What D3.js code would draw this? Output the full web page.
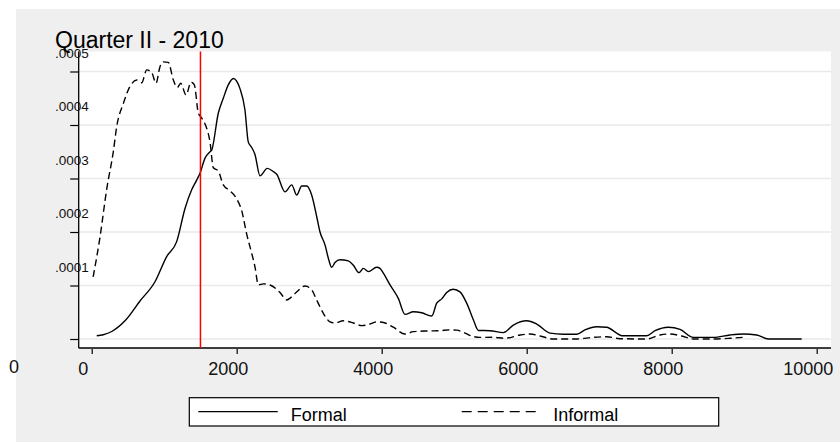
<!DOCTYPE html>
<html>
<head>
<meta charset="utf-8">
<script src="https://cdn.jsdelivr.net/npm/d3@7"></script>
<style>
  body { margin: 0; background: #fff; }
  svg { display: block; font-family: "Liberation Sans", Arial, Helvetica, sans-serif; }
</style>
</head>
<body>
<svg id="chart" width="840" height="443"></svg>
<script>
// density values are in units of 1e-4
let formalX = [70, 160, 276, 459, 666, 873, 1034, 1172, 1287, 1379, 1448, 1494, 1563, 1632, 1655, 1746, 1815, 1884, 1953, 2045, 2114, 2160, 2207, 2252, 2321, 2422, 2505, 2552, 2667, 2759, 2828, 2897, 2966, 3034, 3103, 3149, 3218, 3264, 3310, 3356, 3425, 3540, 3609, 3687, 3747, 3816, 3931, 3976, 4023, 4115, 4229, 4322, 4437, 4552, 4690, 4759, 4828, 4897, 4988, 5080, 5172, 5264, 5333, 5494, 5678, 5816, 6000, 6138, 6322, 6505, 6690, 6804, 6966, 7103, 7241, 7310, 7655, 7770, 7954, 8115, 8298, 8574, 8804, 8988, 9172, 9333, 9793]
let formalY = [0.06, 0.08, 0.14, 0.34, 0.71, 1.07, 1.54, 1.82, 2.44, 2.79, 2.97, 3.10, 3.38, 3.50, 3.53, 4.22, 4.50, 4.75, 4.87, 4.68, 4.28, 3.68, 3.58, 3.45, 3.05, 3.19, 3.13, 3.08, 2.75, 2.88, 2.69, 2.86, 2.86, 2.69, 2.29, 2.00, 1.76, 1.51, 1.34, 1.43, 1.48, 1.46, 1.38, 1.24, 1.32, 1.26, 1.34, 1.32, 1.23, 1.01, 0.76, 0.46, 0.51, 0.49, 0.43, 0.67, 0.75, 0.87, 0.93, 0.88, 0.67, 0.36, 0.16, 0.155, 0.12, 0.26, 0.34, 0.28, 0.11, 0.09, 0.09, 0.17, 0.23, 0.22, 0.11, 0.06, 0.06, 0.155, 0.22, 0.18, 0.03, 0.03, 0.075, 0.093, 0.075, 0.0, 0.0]

let informalX = [20, 114, 207, 298, 345, 436, 528, 621, 690, 759, 828, 887, 942, 988, 1057, 1126, 1181, 1228, 1301, 1370, 1416, 1471, 1517, 1563, 1632, 1678, 1746, 1815, 1908, 2000, 2069, 2138, 2207, 2252, 2298, 2367, 2459, 2597, 2690, 2804, 2942, 3034, 3103, 3195, 3287, 3356, 3471, 3609, 3724, 3816, 3931, 4046, 4160, 4322, 4437, 4621, 4804, 4942, 5034, 5149, 5264, 5356, 5540, 5701, 5908, 6046, 6184, 6367, 6690, 6920, 7103, 7287, 7655, 7839, 7977, 8138, 8298, 8574, 8804, 8988]
let informalY = [1.16, 1.90, 2.80, 3.50, 3.97, 4.40, 4.72, 4.84, 4.79, 5.03, 4.98, 4.78, 5.09, 5.18, 5.17, 4.84, 4.70, 4.78, 4.56, 4.80, 4.75, 4.22, 4.13, 4.02, 3.68, 3.20, 3.14, 2.88, 2.77, 2.62, 2.40, 1.96, 1.60, 1.35, 1.01, 1.03, 1.01, 0.87, 0.73, 0.85, 0.99, 0.92, 0.73, 0.48, 0.32, 0.30, 0.34, 0.30, 0.25, 0.27, 0.32, 0.30, 0.22, 0.093, 0.137, 0.15, 0.155, 0.17, 0.165, 0.11, 0.045, 0.03, 0.032, 0.013, 0.075, 0.093, 0.056, 0.0, 0.0, 0.032, 0.043, 0.006, 0.0, 0.075, 0.093, 0.056, 0.0, 0.0, 0.013, 0.032]

let xTicks = [0, 2000, 4000, 6000, 8000, 10000]
let yTicks = [0, 0.0001, 0.0002, 0.0003, 0.0004, 0.0005]
let yTickLabels = ["", ".0001", ".0002", ".0003", ".0004", ".0005"]
let cutoff = 1500
let title = "Quarter II - 2010"
let legendNames = ["Formal", "Informal"]

let svg = d3.select("#chart")

// plot frame
let plotLeft = 78.7, plotRight = 831, plotTop = 51.5, plotBottom = 348

let x = d3.scaleLinear().domain([0, 10000]).range([91.7, 816.7])
let y = d3.scaleLinear().domain([0, 0.0005]).range([339, 71.5])

svg.append("rect").attr("x", 16).attr("y", 9).attr("width", 824).attr("height", 433).attr("fill", "#efefef")
svg.append("rect").attr("x", plotLeft).attr("y", plotTop)
  .attr("width", plotRight - plotLeft).attr("height", plotBottom - plotTop).attr("fill", "#fff")

// gridlines
svg.append("g").selectAll("line").data(yTicks).enter().append("line")
  .attr("x1", plotLeft).attr("x2", plotRight)
  .attr("y1", d => y(d)).attr("y2", d => y(d))
  .attr("stroke", "#e9e9e9").attr("stroke-width", 1.5)

// y axis (labels sit above their ticks, like the original)
let yAxis = svg.append("g").attr("transform", `translate(${plotLeft},0)`)
  .call(d3.axisLeft(y).tickValues(yTicks).tickSize(8.5).tickFormat((d, i) => yTickLabels[i]))
yAxis.select(".domain").attr("d", `M0,${plotTop}V${plotBottom}`).attr("stroke-width", 1.3)
yAxis.selectAll(".tick line").attr("stroke-width", 1.2)
yAxis.selectAll(".tick text")
  .attr("x", 55 - plotLeft).attr("dy", -14.5).attr("text-anchor", "start")
  .attr("font-size", 13.5).attr("font-family", "Liberation Sans, Arial, sans-serif").attr("fill", "#111")

// x axis
let xAxis = svg.append("g").attr("transform", `translate(0,${plotBottom})`)
  .call(d3.axisBottom(x).tickValues(xTicks).tickSize(6).tickFormat(d3.format("d")))
xAxis.select(".domain").attr("d", `M${plotLeft},0H${plotRight}`).attr("stroke-width", 1.3)
xAxis.selectAll(".tick line").attr("stroke-width", 1.2).attr("y1", 1)
xAxis.selectAll(".tick text")
  .attr("dx", -9).attr("y", 27).attr("dy", 0)
  .attr("font-size", 18).attr("font-family", "Liberation Sans, Arial, sans-serif").attr("fill", "#111")

// stray zero label at the far left
svg.append("text").attr("x", 14).attr("y", 373).attr("text-anchor", "middle")
  .attr("font-size", 18).attr("fill", "#111").text("0")

// curves
let line = d3.line()
  .x(d => x(d[0]))
  .y(d => y(d[1] / 10000))
  .curve(d3.curveMonotoneX)

svg.append("path").datum(d3.zip(formalX, formalY))
  .attr("d", line).attr("fill", "none").attr("stroke", "#000").attr("stroke-width", 1.4)

svg.append("path").datum(d3.zip(informalX, informalY))
  .attr("d", line).attr("fill", "none").attr("stroke", "#000").attr("stroke-width", 1.4)
  .attr("stroke-dasharray", "7,4")

// red reference line
svg.append("line")
  .attr("x1", x(cutoff)).attr("x2", x(cutoff))
  .attr("y1", plotTop).attr("y2", plotBottom)
  .attr("stroke", "#ff0000").attr("stroke-width", 1.5)

// title
svg.append("text").attr("x", 55).attr("y", 48)
  .attr("font-size", 23).attr("fill", "#000").text(title)

// legend
let legend = svg.append("g")
legend.append("rect").attr("x", 189.3).attr("y", 397.7).attr("width", 529.4).attr("height", 28.3)
  .attr("fill", "#fff").attr("stroke", "#000").attr("stroke-width", 1.2)
legend.append("line").attr("x1", 198.3).attr("x2", 277.7).attr("y1", 411.7).attr("y2", 411.7)
  .attr("stroke", "#000").attr("stroke-width", 1.2)
legend.append("text").attr("x", 290.7).attr("y", 421).attr("font-size", 18).text(legendNames[0])
legend.append("line").attr("x1", 461.7).attr("x2", 540).attr("y1", 411.7).attr("y2", 411.7)
  .attr("stroke", "#000").attr("stroke-width", 1.2).attr("stroke-dasharray", "10,6")
legend.append("text").attr("x", 553.3).attr("y", 421).attr("font-size", 18).text(legendNames[1])
</script>
</body>
</html>
